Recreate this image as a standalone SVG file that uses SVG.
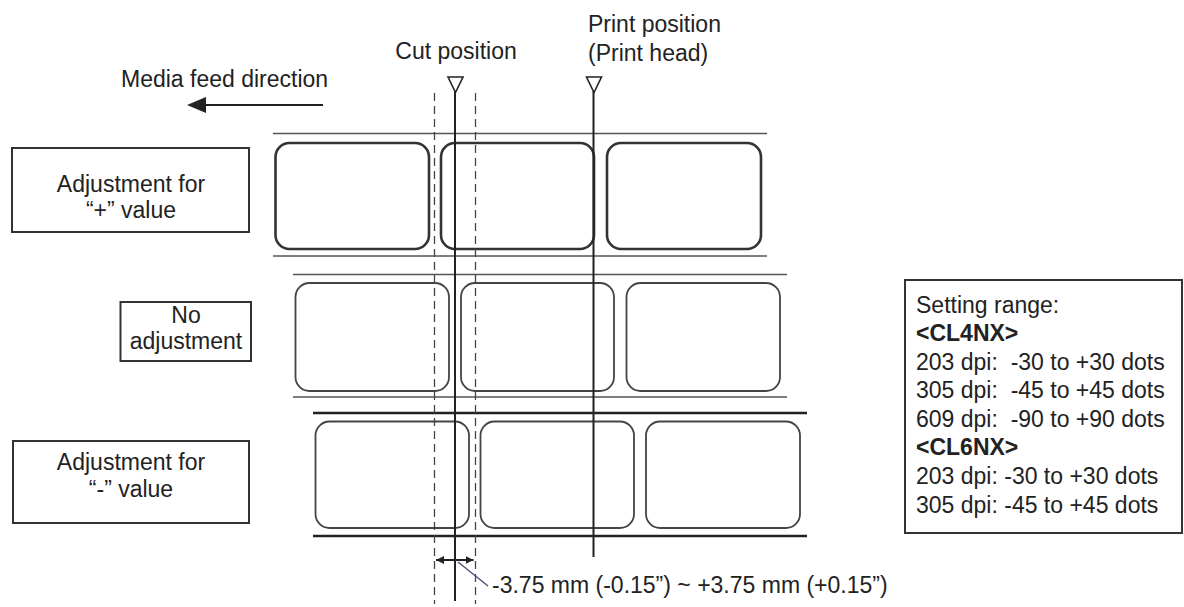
<svg xmlns="http://www.w3.org/2000/svg" width="1184" height="607" viewBox="0 0 1184 607">
<style>
text{font-family:"Liberation Sans",Arial,sans-serif;font-size:23px;fill:#222;white-space:pre}
.mid{text-anchor:middle}
.b{font-weight:bold}
.box{fill:#fff;stroke:#333;stroke-width:2}
.lbl1{fill:none;stroke:#333;stroke-width:2.6}
.lbl{fill:none;stroke:#444;stroke-width:1.8}
.web{stroke:#555;stroke-width:1.5}
.webb{stroke:#222;stroke-width:2.6}
.dash{stroke:#444;stroke-width:1.3;stroke-dasharray:8 5;fill:none}
.pos{stroke:#222;stroke-width:2;fill:none}
.tri{fill:#fff;stroke:#222;stroke-width:1.6}
</style>
<defs>
<marker id="ah" viewBox="0 0 10 10" refX="10" refY="5" markerWidth="8" markerHeight="8" markerUnits="userSpaceOnUse" orient="auto-start-reverse">
<path d="M0,0 L10,5 L0,10 z" fill="#222"/>
</marker>
</defs>

<g id="feed-direction">
<text x="121" y="87">Media feed direction</text>
<line x1="323" y1="105" x2="200" y2="105" stroke="#222" stroke-width="2.2"/>
<path d="M187,105 L206,97 L206,113 z" fill="#222"/>
</g>

<g id="media-rows">
<line class="web" x1="273" y1="133.5" x2="767" y2="133.5"/>
<line class="web" x1="273" y1="256" x2="767" y2="256"/>
<rect class="lbl1" x="275.5" y="143" width="153.5" height="106" rx="14"/>
<rect class="lbl1" x="441" y="143" width="153" height="106" rx="14"/>
<rect class="lbl1" x="607" y="143" width="154" height="106" rx="14"/>

<line class="web" x1="293" y1="274.5" x2="787" y2="274.5"/>
<line class="web" x1="293" y1="397" x2="787" y2="397"/>
<rect class="lbl" x="295.5" y="283" width="153.5" height="108" rx="14"/>
<rect class="lbl" x="461" y="283" width="153" height="108" rx="14"/>
<rect class="lbl" x="626.5" y="283" width="153.5" height="108" rx="14"/>

<line class="webb" x1="313" y1="413" x2="807" y2="413"/>
<line class="webb" x1="313" y1="536" x2="807" y2="536"/>
<rect class="lbl" x="315.5" y="421.5" width="153.5" height="106.5" rx="14"/>
<rect class="lbl" x="480.5" y="421.5" width="153.5" height="106.5" rx="14"/>
<rect class="lbl" x="646" y="421.5" width="154" height="106.5" rx="14"/>
</g>

<g id="cut-position">
<text class="mid" x="456" y="59">Cut position</text>
<line class="dash" x1="434.5" y1="93" x2="434.5" y2="604"/>
<line class="dash" x1="475.5" y1="93" x2="475.5" y2="604"/>
<line class="pos" x1="455" y1="91" x2="455" y2="601"/>
<path class="tri" d="M448,77 L463,77 L455.5,92.5 z"/>
</g>

<g id="print-position">
<text x="588" y="32">Print position</text>
<text x="588" y="61">(Print head)</text>
<line class="pos" x1="593.5" y1="91" x2="593.5" y2="557"/>
<path class="tri" d="M586.5,77 L601.5,77 L594,92.5 z"/>
</g>

<g id="label-plus">
<rect class="box" x="12" y="148" width="237" height="84"/>
<text class="mid" x="131" y="192">Adjustment for</text>
<text class="mid" x="131" y="218">“+” value</text>
</g>

<g id="label-none">
<rect class="box" x="120.5" y="302" width="130.5" height="59"/>
<text class="mid" x="186" y="323">No</text>
<text class="mid" x="186" y="349">adjustment</text>
</g>

<g id="label-minus">
<rect class="box" x="13" y="441" width="236" height="82"/>
<text class="mid" x="131" y="470">Adjustment for</text>
<text class="mid" x="131" y="497">“-” value</text>
</g>

<g id="setting-range">
<rect class="box" x="905" y="280" width="277" height="253" stroke-width="1.8"/>
<text x="916" y="313">Setting range:</text>
<text class="b" x="916" y="341">&lt;CL4NX&gt;</text>
<text x="916" y="370">203 dpi:  -30 to +30 dots</text>
<text x="916" y="398">305 dpi:  -45 to +45 dots</text>
<text x="916" y="427">609 dpi:  -90 to +90 dots</text>
<text class="b" x="916" y="455">&lt;CL6NX&gt;</text>
<text x="916" y="484">203 dpi: -30 to +30 dots</text>
<text x="916" y="513">305 dpi: -45 to +45 dots</text>
</g>

<g id="connectors">
<line x1="436" y1="560" x2="473.5" y2="560" stroke="#222" stroke-width="2" marker-start="url(#ah)" marker-end="url(#ah)"/>
<line x1="458" y1="562" x2="488" y2="586" stroke="#4a4f78" stroke-width="1.5"/>
<text x="492" y="593">-3.75 mm (-0.15”) ~ +3.75 mm (+0.15”)</text>
</g>
</svg>
